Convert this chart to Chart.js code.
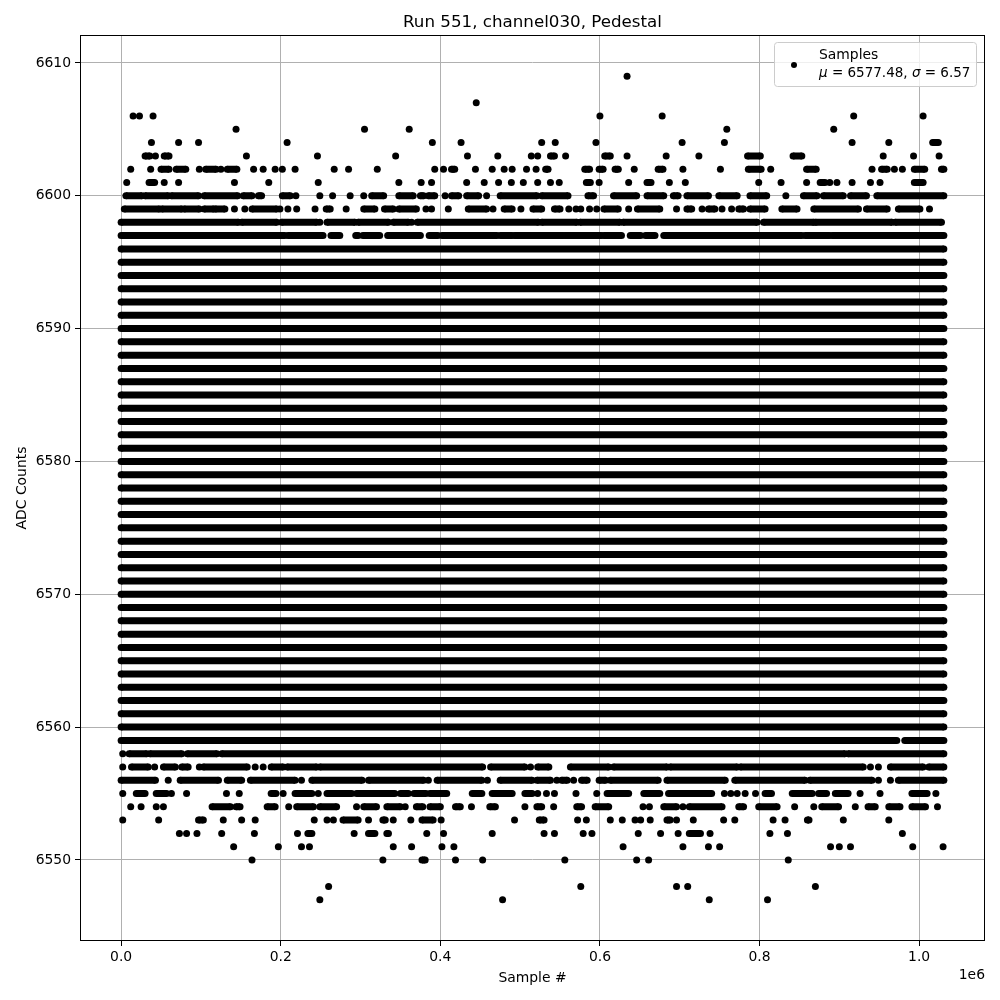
<!DOCTYPE html>
<html>
<head>
<meta charset="utf-8">
<script src="https://cdn.jsdelivr.net/npm/chart.js@4/dist/chart.umd.min.js"></script>
<style>
    body { margin: 0; background: #fff; }
</style>
</head>
<body>
<canvas id="chart" width="1000" height="1000"></canvas>
<script>
const chartTitle = 'Run 551, channel030, Pedestal';
const xTitle = 'Sample #';
const yTitle = 'ADC Counts';
const xTickValues = [0, 200000, 400000, 600000, 800000, 1000000];
const yTickValues = [6550, 6560, 6570, 6580, 6590, 6600, 6610];
const sampleMean = 6577.48;
const sampleSigma = 6.57;

// sample index in thousands
const firstSample = 0;
const lastSample = 1031;

// ADC levels hit all through the run
const solidLevels = [6560, 6561, 6562, 6563, 6564, 6565, 6566, 6567, 6568, 6569, 6570,
    6571, 6572, 6573, 6574, 6575, 6576, 6577, 6578, 6579, 6580, 6581, 6582, 6583, 6584,
    6585, 6586, 6587, 6588, 6589, 6590, 6591, 6592, 6593, 6594, 6595, 6596];

// sparser levels: single samples or [from, to] runs, sample index in thousands
const partialLevels = [6609, 6607, 6606, 6605, 6604, 6603, 6602, 6601, 6600, 6599, 6598, 6597,
    6559, 6558, 6557, 6556, 6555, 6554, 6553, 6552, 6551, 6550, 6548, 6547];
const partialRuns = [
    [634],
    [445],
    [15, 23, 40, 600, 678, 918, 1005],
    [144, 305, 361, 759, 893],
    [38, 72, 97, 208, 390, 426, 527, 544, 595, 703, 756, 916, 962, [1017, 1024]],
    [[30, 36], 43, [54, 60], 157, 246, 344, 434, 472, 514, 522, [538, 543], 557, [606, 613], 634, 683, 724,
        [785, 801], [842, 853], 955, 993, 1025],
    [12, 37, [50, 60], [69, 81], 98, [106, 119], 125, [133, 145], 166, 178, 193, 202, 218, 267, 285, 321, 393,
        404, [414, 418], 444, 465, 480, 490, 508, 520, [532, 535], [581, 587], [599, 604], [619, 623], 643,
        [673, 679], 704, 751, [786, 802], 814, [859, 871], 941, [953, 960], 969, 979, [994, 1007], [1028, 1031]],
    [7, [35, 42], 54, 72, 142, 185, 247, 348, 376, 389, 433, 455, 473, 489, 504, 522, 538, 549, [583, 588],
        599, 636, [659, 664], 687, 707, 799, 827, 859, [876, 882], 888, 897, 916, 939, 951, [994, 1005]],
    [[6, 26], [30, 59], [63, 97], [104, 146], [153, 164], [172, 176], [202, 212], 219, 249, 265, 287, 304,
        [314, 329], [348, 366], [375, 379], [385, 393], 406, [414, 423], [433, 448], 458, [475, 521], [527, 560],
        [585, 592], [617, 646], [659, 680], [692, 698], [709, 736], [749, 772], [788, 809], 833, [855, 872],
        [880, 905], [914, 934], [947, 1031]],
    [[4, 48], [51, 76], [79, 98], [104, 116], [118, 130], 142, 155, [164, 195], 199, 209, 220, 243, [257, 262],
        282, [304, 318], [330, 341], [348, 370], 382, 389, 410, [435, 458], 466, [480, 490], 501, [516, 527],
        [543, 550], 561, 570, 576, 587, 596, [605, 623], 636, [647, 675], 696, [709, 715], 728, [736, 744], 753,
        765, [774, 780], [788, 807], [828, 847], [868, 924], [934, 960], [974, 1001], 1013],
    [[0, 147], [151, 195], [201, 245], 249, [258, 293], [297, 335], [341, 360], 364, [371, 523], [527, 571],
        [575, 625], [629, 797], [805, 868], [870, 966], [970, 1028]],
    [[0, 132], [133, 205], [209, 253], [263, 274], [294, 297], [303, 324], [334, 375], [386, 397], [402, 471],
        [475, 490], [493, 554], [556, 602], [605, 627], [638, 651], [657, 669], [680, 853], [857, 888], [891, 1031]],
    [[0, 972], [982, 1031]],
    [2, [10, 32], [36, 76], [83, 120], [126, 907], [911, 1031]],
    [2, [13, 34], 42, [53, 68], [76, 84], 98, [103, 158], 168, 178, [188, 203], [208, 245], [249, 453], [463, 506],
        513, [522, 536], [563, 611], [617, 684], [688, 772], [776, 930], 939, 949, [964, 1005], [1012, 1031]],
    [[0, 43], 59, [74, 122], [133, 151], [162, 218], 226, [239, 302], [310, 379], 385, [396, 452], 459, [475, 515],
        [521, 538], 546, [552, 559], 567, [577, 584], [599, 607], [613, 673], [684, 757], [769, 857], [863, 941],
        949, 964, [974, 1031]],
    [2, [19, 30], [44, 57], 63, 82, 132, 148, [188, 194], 203, [218, 239], 247, [258, 289], [295, 343], [350, 360],
        [367, 382], [387, 408], [440, 452], [465, 490], [506, 515], 522, 533, 543, 570, 596, [609, 636], [655, 675],
        [686, 740], 756, 764, 772, 782, 795, [807, 815], [841, 866], [874, 884], [895, 911], 926, 951, [991, 1010], 1021],
    [12, 25, 44, 53, [114, 137], [144, 149], [183, 193], 210, [220, 241], [249, 270], 295, [304, 320], [333, 350],
        356, [370, 378], [387, 400], [419, 425], 439, [462, 469], 506, [521, 527], 542, [571, 577], [594, 611], 654,
        662, [680, 696], 704, [712, 753], [774, 780], [799, 822], 844, 868, [878, 899], 920, [936, 945], [962, 976],
        [991, 1008], 1023],
    [2, 47, [97, 103], 128, 151, 168, 242, 258, 266, [278, 297], 310, [328, 331], 341, 363, [377, 391], 401, 493,
        [524, 530], 572, 583, 613, 628, 644, 651, 663, [684, 688], 696, 717, 755, 769, 817, 832, [860, 862], 905, 962],
    [73, 82, 95, 126, 167, 221, [234, 239], 292, [310, 318], [333, 335], 383, 404, 465, 530, 543, 579, 590, 648,
        676, 698, [712, 726], 738, 813, 835, 979],
    [141, 197, 226, 236, 341, 364, 402, 417, 629, 704, 736, 750, 889, 900, 914, 992, 1030],
    [164, 328, [377, 381], 419, 453, 556, 646, 661, 836],
    [260, 576, 696, 710, 870],
    [249, 478, 737, 810]
];

function runsToPoints(level, runs) {
    const points = [];
    runs.forEach(run => {
        const [from, to] = Array.isArray(run) ? run : [run, run];
        points.push({x: from * 1000, y: level});
        if(to !== from) points.push({x: to * 1000, y: level});
        points.push({x: to * 1000, y: null});
    });
    return points;
}

const samplePoints = [];
solidLevels.forEach(level => samplePoints.push(...runsToPoints(level, [[firstSample, lastSample]])));
partialLevels.forEach((level, i) => samplePoints.push(...runsToPoints(level, partialRuns[i])));

const font = '"DejaVu Sans", sans-serif';

const decorations = {
    id: 'decorations',
    afterDraw(chart) {
        const {ctx, chartArea: area} = chart;
        ctx.save();
        ctx.strokeStyle = '#000';
        ctx.lineWidth = 1;
        ctx.strokeRect(area.left + 0.5, area.top + 0.5, area.right - area.left - 1, area.bottom - area.top - 1);

        ctx.fillStyle = '#000';
        ctx.textAlign = 'center';
        ctx.textBaseline = 'alphabetic';
        ctx.font = `16.7px ${font}`;
        ctx.fillText(chartTitle, (area.left + area.right) / 2, 27);

        ctx.font = `13.9px ${font}`;
        ctx.fillText(xTitle, (area.left + area.right) / 2, 982);
        ctx.textAlign = 'right';
        ctx.fillText('1e6', area.right, 979);

        ctx.save();
        ctx.translate(26, (area.top + area.bottom) / 2);
        ctx.rotate(-Math.PI / 2);
        ctx.textAlign = 'center';
        ctx.fillText(yTitle, 0, 0);
        ctx.restore();

        // legend box
        ctx.beginPath();
        ctx.roundRect(774.5, 42.5, 202, 44, 3);
        ctx.fillStyle = 'rgba(255,255,255,0.8)';
        ctx.fill();
        ctx.strokeStyle = '#cccccc';
        ctx.stroke();
        ctx.fillStyle = '#000';
        ctx.beginPath();
        ctx.arc(794, 65, 3, 0, Math.PI * 2);
        ctx.fill();

        ctx.textAlign = 'left';
        ctx.font = `13.9px ${font}`;
        ctx.fillText('Samples', 819, 59);
        let x = 819;
        const parts = [
            ['\u03bc', true], [' = ' + sampleMean.toFixed(2) + ', ', false],
            ['\u03c3', true], [' = ' + sampleSigma.toFixed(2), false]
        ];
        parts.forEach(([text, italic]) => {
            ctx.font = `${italic ? 'italic ' : ''}13.5px ${font}`;
            ctx.fillText(text, x, 77);
            x += ctx.measureText(text).width;
        });
        ctx.restore();
    }
};

new Chart(document.getElementById('chart'), {
    type: 'scatter',
    data: {
        datasets: [{
            label: 'Samples',
            data: samplePoints,
            showLine: true,
            spanGaps: false,
            borderColor: '#000',
            borderWidth: 7,
            borderCapStyle: 'butt',
            pointRadius: 3.5,
            pointHoverRadius: 3.5,
            pointBorderWidth: 0,
            pointBackgroundColor: '#000',
            pointBorderColor: '#000'
        }]
    },
    options: {
        responsive: false,
        animation: false,
        events: [],
        layout: {padding: {left: 0, top: 35, right: 15, bottom: 0}},
        plugins: {
            legend: {display: false},
            title: {display: false},
            tooltip: {enabled: false}
        },
        scales: {
            x: {
                type: 'linear',
                min: -51550,
                max: 1082550,
                afterFit: scale => { scale.height = 59; },
                afterBuildTicks: scale => { scale.ticks = xTickValues.map(value => ({value})); },
                ticks: {
                    color: '#000',
                    font: {family: 'DejaVu Sans', size: 13.9},
                    padding: 3,
                    maxRotation: 0,
                    includeBounds: false,
                    callback: value => (value / 1e6).toFixed(1)
                },
                grid: {color: '#b0b0b0', lineWidth: 1, tickColor: '#000', tickLength: 5},
                border: {display: false}
            },
            y: {
                type: 'linear',
                min: 6543.9,
                max: 6612.1,
                afterFit: scale => { scale.width = 80; },
                afterBuildTicks: scale => { scale.ticks = yTickValues.map(value => ({value})); },
                ticks: {
                    color: '#000',
                    font: {family: 'DejaVu Sans', size: 13.9},
                    padding: 4,
                    includeBounds: false,
                    callback: value => String(value)
                },
                grid: {color: '#b0b0b0', lineWidth: 1, tickColor: '#000', tickLength: 5},
                border: {display: false}
            }
        }
    },
    plugins: [decorations]
});
</script>
</body>
</html>
